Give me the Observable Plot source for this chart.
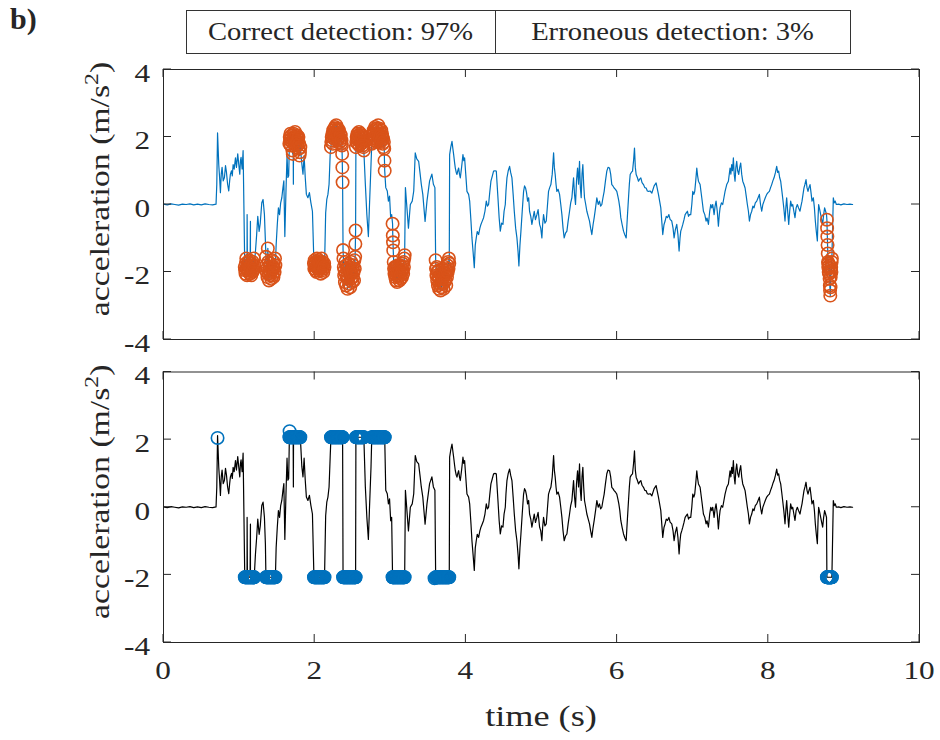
<!DOCTYPE html>
<html><head><meta charset="utf-8">
<script src="https://cdn.jsdelivr.net/npm/d3@7"></script>
<script src="https://cdn.jsdelivr.net/npm/@observablehq/plot@0.6"></script>
<style>
body{margin:0;background:#fff;}
#page{position:relative;width:940px;height:740px;font-family:"Liberation Serif","Times New Roman",serif;color:#262626;overflow:hidden;}
.abs{position:absolute;}
#tag{left:10px;top:2px;font-weight:bold;font-size:30px;}
#legendBox{left:186px;top:10px;width:665px;height:44px;border:1.5px solid #333;box-sizing:border-box;display:flex;}
#legendBox div{display:flex;align-items:center;justify-content:center;font-size:26px;white-space:nowrap;}
#legendBox span{display:inline-block;transform:scaleX(1.1);}
</style></head><body><div id="page">
<div class="abs" id="tag"></div>
<div class="abs" id="legendBox"><div id="cellA" style="width:308px;border-right:1.5px solid #333;"></div><div id="cellB" style="flex:1;"></div></div>
<div class="abs" id="topPanel" style="left:0;top:0;"></div>
<div class="abs" id="bottomPanel" style="left:0;top:360px;"></div>
</div>
<script>
// ---- labels / ticks ----
const panelTag = "b)";
const legendLabels = ["Correct detection: 97%", "Erroneous detection: 3%"];
const xTicks = [0, 2, 4, 6, 8, 10];
const yTicks = [-4, -2, 0, 2, 4];
const xLabel = "time (s)";
const yLabelMain = "acceleration (m/s";
const yLabelSup = "2";
const clampLevel = 2.07;

// ---- undetected signal samples: [time s, acceleration m/s^2] ----
const restStart = [[0,0.01],[0.05,-0.01],[0.1,0.02],[0.15,0],[0.2,-0.02],[0.25,0.01],[0.3,0],[0.35,0.02],[0.4,-0.01],[0.45,0.01],[0.5,-0.01],[0.55,0.02],[0.6,0],[0.65,-0.01],[0.695,0.01]];
const onset = [[0.705,0.6],[0.715,2.12],[0.731,1.18],[0.742,0.8],[0.753,0.35],[0.764,0.9],[0.775,1.1],[0.79,0.7],[0.806,0.8],[0.82,1.15],[0.833,0.95],[0.848,0.6],[0.863,0.4],[0.875,0.7],[0.885,0.9],[0.9,1.0],[0.91,0.85],[0.921,1.18],[0.935,1.05],[0.952,1.38],[0.965,1.1],[0.982,1.5],[0.995,1.2],[1.009,0.9],[1.018,1.3],[1.026,1.4],[1.04,1.05],[1.053,1.6]];
const gapA = [[1.106,-0.3],[1.15,-0.5],[1.216,-1.4],[1.232,-0.9],[1.247,-0.35],[1.265,-0.8],[1.28,-0.55],[1.3,0.05],[1.317,0.15],[1.335,-0.3],[1.348,-1.1],[1.49,-1.2],[1.505,-0.6],[1.52,-0.1],[1.535,-0.3],[1.55,0.05],[1.565,0.2],[1.58,0.5],[1.592,0.7],[1.605,-0.95],[1.62,0.4],[1.634,1.45],[1.645,0.8],[1.656,0.85]];
const gapB = [[1.718,0.6],[1.83,1.2],[1.845,0.9],[1.86,1.45],[1.875,0.8],[1.89,0.3],[1.91,0.2],[1.93,0.35],[1.95,0.05],[1.97,-0.2]];
const gapC = [[2.145,-0.25],[2.16,0.15],[2.175,0.3],[2.19,0.6],[2.205,1.5]];
const gapF = [[2.67,0.6],[2.69,-0.3],[2.71,-0.95],[2.725,0.0],[2.745,1.2]];
const gapG = [[2.94,0.5],[2.96,0.4],[2.975,0.1],[2.99,0.25],[3.005,-0.4],[3.018,-0.3]];
const gapH = [[3.2,0.5],[3.22,-0.1],[3.24,-0.7],[3.265,0.0],[3.29,0.1],[3.31,0.4],[3.33,1.53],[3.35,1.35],[3.375,1.28],[3.395,0.9],[3.41,0.6],[3.43,0.3],[3.46,-0.5],[3.485,0.1],[3.52,0.7],[3.55,0.9],[3.57,0.6],[3.59,0.5]];
const walkA = [[3.785,1.48],[3.8,1.7],[3.816,1.87],[3.828,1.65],[3.838,1.48],[3.85,1.25],[3.86,1.08],[3.872,0.95],[3.882,0.89],[3.893,1.0],[3.904,1.08],[3.915,0.9],[3.926,0.79],[3.943,1.1],[3.961,1.48],[3.972,1.3],[3.983,1.38],[3.998,0.9],[4.014,0.39],[4.036,0.3],[4.05,0.1],[4.067,-0.49],[4.08,-0.99],[4.095,-1.4],[4.111,-1.87],[4.124,-1.2],[4.137,-0.99],[4.15,-0.8],[4.168,-0.89],[4.185,-0.7],[4.199,-0.59],[4.215,-0.5],[4.234,-0.39],[4.252,-0.2],[4.27,0.1],[4.285,-0.05],[4.3,0.0],[4.315,0.35],[4.331,0.69],[4.35,0.85],[4.366,0.99],[4.385,1.0],[4.402,0.99],[4.424,0.2],[4.44,-0.4],[4.455,-0.79],[4.472,-0.55],[4.49,-0.59],[4.505,-0.2],[4.521,0.0],[4.53,0.4],[4.543,0.79],[4.56,1.0],[4.578,1.13],[4.592,0.95],[4.609,0.79],[4.625,0.3],[4.64,-0.2],[4.658,-0.7],[4.675,-0.99],[4.69,-1.4],[4.701,-1.82],[4.715,-1.2],[4.728,-0.79],[4.745,-0.2],[4.763,0.39],[4.776,0.55],[4.789,0.49],[4.802,0.35],[4.816,0.1],[4.83,0.2],[4.842,-0.2],[4.858,-0.35],[4.873,-0.59],[4.888,-0.4],[4.904,-0.2],[4.92,-0.45],[4.939,-0.3],[4.955,-0.15],[4.975,-0.59],[4.99,-0.7],[5.005,-0.99],[5.015,-0.6],[5.027,-0.3],[5.045,-0.55],[5.063,-0.49],[5.078,-0.05],[5.093,0.39],[5.108,0.5],[5.124,0.59],[5.142,0.9],[5.16,1.53],[5.17,1.1],[5.181,0.89],[5.192,0.6],[5.203,0.39],[5.22,0.45],[5.239,0.3],[5.255,0.0],[5.27,-0.3],[5.285,-0.7],[5.3,-0.99],[5.318,-0.85],[5.336,-0.79],[5.352,-0.5],[5.371,-0.2],[5.386,0.05],[5.402,0.2],[5.413,0.5],[5.424,0.79],[5.437,0.3],[5.45,0.0],[5.463,0.7],[5.477,1.08],[5.49,0.6],[5.503,1.28],[5.514,0.5],[5.525,0.2],[5.536,0.9],[5.547,1.18],[5.558,0.6],[5.569,0.2],[5.585,0.0],[5.6,-0.2],[5.618,-0.35],[5.635,-0.49],[5.65,-0.7],[5.666,-0.89],[5.682,-0.6],[5.697,-0.39],[5.715,-0.1],[5.732,0.2],[5.75,0.0],[5.767,0.1],[5.782,-0.05],[5.798,0.0],[5.813,0.2],[5.829,0.39],[5.846,0.7],[5.864,0.99],[5.88,1.1],[5.9,1.08],[5.915,0.9],[5.93,0.59],[5.945,0.55],[5.961,0.49],[5.978,0.45],[5.996,0.39],[6.01,0.25],[6.023,0.1],[6.036,-0.1],[6.049,-0.39],[6.067,-0.6],[6.085,-0.79],[6.102,-0.9],[6.12,-0.99],[6.135,-0.4],[6.151,0.2],[6.162,0.6],[6.173,0.89],[6.188,0.95],[6.204,0.99],[6.218,1.3],[6.23,1.67],[6.241,1.1],[6.252,0.89],[6.268,0.8],[6.283,0.69],[6.298,0.75],[6.314,0.79],[6.33,0.65],[6.349,0.59],[6.366,0.5],[6.384,0.49],[6.4,0.4],[6.415,0.39],[6.437,0.4],[6.46,0.34],[6.49,0.55],[6.516,0.64],[6.547,0.3],[6.578,-0.1]];
const walkB = [[6.604,-0.89],[6.62,-0.6],[6.635,-0.49],[6.65,-0.35],[6.666,-0.39],[6.685,-0.3],[6.701,-0.44],[6.723,-0.49],[6.74,-0.7],[6.754,-0.99],[6.77,-0.75],[6.789,-0.59],[6.805,-0.9],[6.82,-1.38],[6.832,-1.0],[6.842,-0.79],[6.855,-0.7],[6.869,-0.59],[6.885,-0.45],[6.9,-0.3],[6.915,-0.25],[6.93,-0.2],[6.945,-0.35],[6.957,-0.3],[6.974,-0.3],[6.988,0.0],[7.001,0.39],[7.015,0.3],[7.027,0.39],[7.04,0.7],[7.054,1.08],[7.065,0.85],[7.076,0.69],[7.098,0.59],[7.12,0.2],[7.142,-0.2],[7.16,-0.3],[7.177,-0.49],[7.19,-0.4],[7.208,-0.59],[7.225,-0.2],[7.239,0.0],[7.252,-0.1],[7.265,0.0],[7.283,-0.3],[7.296,-0.05],[7.309,0.1],[7.325,-0.2],[7.34,-0.64],[7.352,-0.3],[7.362,-0.1],[7.38,0.05],[7.397,0.0],[7.413,0.2],[7.428,0.39],[7.45,0.59],[7.472,0.69],[7.494,1.08],[7.505,0.9],[7.516,1.18],[7.527,1.0],[7.538,1.38],[7.549,0.9],[7.56,0.69],[7.571,1.1],[7.582,1.28],[7.595,1.0],[7.609,0.89],[7.622,1.1],[7.635,1.23],[7.648,0.9],[7.662,0.69],[7.677,0.6],[7.693,0.49],[7.708,0.25],[7.723,0.0],[7.737,-0.2],[7.75,-0.49],[7.765,-0.3],[7.781,-0.2],[7.796,-0.05],[7.811,-0.1],[7.828,0.05],[7.847,0.1],[7.865,0.2],[7.882,0.3],[7.897,0.0],[7.913,-0.2],[7.928,0.0],[7.944,0.1],[7.96,0.2],[7.979,0.3],[7.996,0.35],[8.014,0.39],[8.03,0.5],[8.045,0.59],[8.06,0.7],[8.076,0.79],[8.095,0.95],[8.111,1.13],[8.124,0.95],[8.137,0.99],[8.15,0.8],[8.164,0.69],[8.177,0.45],[8.19,0.2],[8.205,-0.1],[8.221,-0.49],[8.232,-0.1],[8.243,0.2],[8.256,-0.2],[8.27,-0.59],[8.283,-0.2],[8.296,0.1],[8.31,-0.05],[8.323,0.0],[8.338,-0.2],[8.353,-0.39],[8.368,-0.1],[8.384,0.0],[8.4,-0.1],[8.419,-0.2],[8.432,-0.05],[8.446,0.1],[8.459,0.3],[8.472,0.49],[8.485,0.6],[8.499,0.74],[8.512,0.5],[8.525,0.39],[8.538,0.5],[8.552,0.59],[8.565,0.35],[8.578,0.1],[8.596,0.2],[8.61,-0.1],[8.622,-0.49],[8.635,-0.8],[8.649,-1.08],[8.658,-0.4],[8.666,0.0],[8.68,-0.15],[8.693,-0.3],[8.706,-0.45],[8.719,-0.59],[8.732,-0.3],[8.745,-0.1],[8.758,-0.2],[8.77,-0.3]];
const restEnd = [[8.86,0.2],[8.872,0.05],[8.885,0.1],[8.9,0.0],[8.93,0.01],[8.96,-0.01],[9.0,0.02],[9.04,0.0],[9.08,0.01],[9.115,0.0]];

// ---- detected bursts: first sample time, sample interval, detected sign, measured values ----
const burstA1 = {start: 1.075, step: 0.005, sign: -1, values: [-1.85,-1.95,-2.05,-1.75,-1.6,-1.9,-2.1,-1.8,-1.95,-1.7,-2.0,-1.85,-1.65,-1.9,-2.05,-1.8,-1.95,-2.1,-1.75,-1.9,-2.0,-1.7,-1.85,-1.95,-1.6,-1.8]};
const burstA2 = {start: 1.355, step: 0.005, sign: -1, values: [-1.55,-1.8,-2.0,-1.9,-2.15,-1.3,-1.7,-2.05,-2.25,-1.95,-1.85,-2.1,-1.75,-2.0,-2.2,-1.9,-1.65,-1.95,-2.1,-1.85,-2.15,-1.7,-1.9,-2.0,-1.6,-1.8]};
const burstB = {start: 1.665, step: 0.005, sign: 1, values: [1.8,2.0,1.9,2.1,1.75,1.95,2.05,1.85,1.6,1.5,1.9,2.1,2.0,1.8,1.95,2.15,1.85,1.7,2.0,1.9,2.05,1.75,1.95,1.85,2.0,1.65,1.8,1.45,1.55,1.7]};
const burstC = {start: 1.99, step: 0.005, sign: -1, values: [-1.75,-1.9,-1.65,-1.8,-1.95,-1.7,-1.85,-2.0,-1.6,-1.75,-1.9,-1.8,-1.65,-1.95,-1.85,-1.7,-1.8,-1.9,-2.05,-1.75,-1.6,-1.85,-1.95,-1.7,-1.8,-2.0,-1.9,-1.75,-1.85]};
const burstD = {start: 2.215, step: 0.005, sign: 1, values: [1.7,1.85,2.0,1.9,2.1,1.8,2.2,2.05,1.95,2.25,2.1,2.3,2.0,2.15,2.35,2.2,1.9,2.05,2.25,2.1,1.95,2.2,2.0,1.85,2.1,1.95,2.05,1.8,1.9,1.75]};
const burstDfall = {start: 2.363, step: 0.003, sign: 1, values: [1.5,1.1,0.66]};
const burstE = {start: 2.375, step: 0.005, sign: -1, values: [-1.35,-1.6,-1.85,-2.1,-1.95,-2.3,-1.7,-2.05,-2.4,-1.8,-2.15,-1.9,-2.5,-2.2,-1.75,-2.0,-2.35,-1.85,-2.1,-2.45,-1.95,-2.2,-1.7,-2.05,-2.3,-1.9,-2.15,-1.8,-2.0,-2.25,-1.65,-1.9,-1.55]};
const burstErise = {start: 2.538, step: 0.003, sign: -1, values: [-1.17,-0.77]};
const burstF1 = {start: 2.545, step: 0.005, sign: 1, values: [1.7,1.85,2.0,1.95,2.1,1.8,2.05,1.9,2.15,1.75,2.0,1.85,2.1,1.95,1.8,2.05,1.9,2.0,1.75,1.85,1.7,1.6]};
const burstF2 = {start: 2.755, step: 0.005, sign: 1, values: [1.8,1.95,2.1,1.85,2.05,2.2,1.9,2.15,2.0,2.3,1.95,2.1,2.25,1.85,2.05,2.2,1.9,2.35,2.1,2.0,2.25,1.95,2.15,1.85,2.05,2.2,1.9,2.1,2.0,1.8,1.95,1.7,1.85,1.65]};
const burstFfall = {start: 2.923, step: 0.003, sign: 1, values: [1.3,1.0]};
const burstGfall = {start: 3.03, step: 0.003, sign: -1, values: [-0.57,-0.92,-1.12,-1.36]};
const burstG = {start: 3.045, step: 0.005, sign: -1, values: [-1.7,-1.9,-2.05,-1.85,-2.15,-1.95,-2.25,-1.85,-2.1,-2.3,-2.0,-1.8,-2.15,-1.9,-2.05,-2.25,-1.95,-1.8,-2.1,-2.2,-1.85,-2.0,-2.15,-1.75,-1.95,-2.05,-1.7,-1.85,-1.6,-1.5]};
const burstH = {start: 3.6, step: 0.005, sign: -1, values: [-1.65,-1.9,-2.1,-1.85,-2.25,-2.0,-2.4,-2.15,-1.95,-2.5,-2.2,-2.35,-2.05,-2.55,-2.3,-2.1,-2.45,-2.2,-1.9,-2.35,-2.15,-2.5,-2.0,-2.3,-2.1,-1.85,-2.25,-2.05,-2.4,-1.95,-2.15,-1.8,-2.0,-1.7,-1.9,-1.6,-1.75]};
const burstI = {start: 8.775, step: 0.003, sign: -1, values: [-0.45,-0.7,-0.95,-1.2,-1.45,-1.7,-1.85,-1.75,-2.0,-1.9,-2.05,-1.8,-2.2,-2.4,-2.55,-2.7,-2.45,-2.15,-1.95,-1.85,-2.0,-1.7,-1.6]};
// isolated hollow markers of the lower panel: [time, acceleration]
const extraBottomMarkers = [[0.715,2.05],[1.668,2.25],[3.585,-2.1]];

// ---- styles ----
const axisColor = "#262626";
const topLineColor = "#0072BD";
const topDotColor = "#D95319";
const bottomLineColor = "#000000";
const bottomDotColor = "#0072BD";
const textStretch = 1.25;

const plainSamples = [...restStart, ...onset, ...gapA, ...gapB, ...gapC, ...gapF, ...gapG, ...gapH, ...walkA, ...walkB, ...restEnd]
  .map(([t, a]) => ({t, a, d: 0}));
const bursts = [burstA1, burstA2, burstB, burstC, burstD, burstDfall, burstE, burstErise, burstF1, burstF2, burstFfall, burstGfall, burstG, burstH, burstI];
const burstSamples = bursts.flatMap(b => b.values.map((a, i) => ({t: b.start + i * b.step, a, d: b.sign})));
const samples = plainSamples.concat(burstSamples).sort((p, q) => p.t - q.t);
const topLine = samples;
const topDots = samples.filter(s => s.d !== 0);
const bottomLine = samples.map(s => ({t: s.t, a: s.d !== 0 ? s.d * clampLevel : s.a}));
const bottomDots = samples.filter(s => s.d !== 0).map(s => ({t: s.t, a: s.d * clampLevel}))
  .concat(extraBottomMarkers.map(([t, a]) => ({t, a})));

document.getElementById("tag").textContent = panelTag;
document.getElementById("cellA").innerHTML = `<span>${legendLabels[0]}</span>`;
document.getElementById("cellB").innerHTML = `<span>${legendLabels[1]}</span>`;

const serif = "'Liberation Serif', 'Times New Roman', serif";

function buildPanel({lineData, dotData, lineColor, dotColor, height, marginTop, marginBottom, showX}) {
  const svg = Plot.plot({
    width: 940, height, marginLeft: 163, marginRight: 21, marginTop, marginBottom,
    x: {domain: [0, 10], axis: null},
    y: {domain: [-4, 4], axis: null},
    style: {fontFamily: serif, fontSize: "25px", color: axisColor, background: "transparent", overflow: "visible"},
    marks: [
      Plot.line(lineData, {x: "t", y: "a", stroke: lineColor, strokeWidth: 1.2}),
      Plot.dot(dotData, {x: "t", y: "a", r: 6.2, stroke: dotColor, strokeWidth: 1.6, fill: "none"}),
      Plot.frame({stroke: axisColor, strokeWidth: 1})
    ]
  });
  const sx = svg.scale("x"), sy = svg.scale("y");
  const L = sx.apply(0), R = sx.apply(10), B = sy.apply(-4), T = sy.apply(4);
  const root = d3.select(svg);
  const g = root.append("g").attr("stroke", axisColor).attr("stroke-width", 1);
  const tl = 8;
  xTicks.forEach(v => {
    const x = sx.apply(v);
    g.append("line").attr("x1", x).attr("x2", x).attr("y1", B).attr("y2", B - tl);
    g.append("line").attr("x1", x).attr("x2", x).attr("y1", T).attr("y2", T + tl);
  });
  yTicks.forEach(v => {
    const y = sy.apply(v);
    g.append("line").attr("x1", L).attr("x2", L + tl).attr("y1", y).attr("y2", y);
    g.append("line").attr("x1", R).attr("x2", R - tl).attr("y1", y).attr("y2", y);
  });
  const labels = root.append("g").attr("fill", axisColor)
    .style("font-family", serif).style("font-size", "25px");
  yTicks.forEach(v => {
    labels.append("text")
      .attr("transform", `translate(${L - 13},${sy.apply(v) + 4}) scale(${textStretch},1)`)
      .attr("text-anchor", "end").attr("dy", "0.35em").text(String(v));
  });
  if (showX) {
    xTicks.forEach(v => {
      labels.append("text")
        .attr("transform", `translate(${sx.apply(v)},${B + 37}) scale(${textStretch},1)`)
        .attr("text-anchor", "middle").text(String(v));
    });
    root.append("text")
      .attr("transform", `translate(${(L + R) / 2},${B + 84}) scale(${textStretch},1)`)
      .attr("text-anchor", "middle").attr("fill", axisColor)
      .style("font-family", serif).style("font-size", "29px")
      .text(xLabel);
  }
  const cy = (T + B) / 2 - 15;
  const yl = root.append("text")
    .attr("transform", `translate(109,${cy}) rotate(-90) scale(${textStretch},1)`)
    .attr("text-anchor", "middle").attr("fill", axisColor)
    .style("font-family", serif).style("font-size", "27px");
  yl.append("tspan").text(yLabelMain);
  yl.append("tspan").attr("dy", -11).style("font-size", "19px").text(yLabelSup);
  yl.append("tspan").attr("dy", 11).text(")");
  return svg;
}

document.getElementById("topPanel").appendChild(buildPanel({
  lineData: topLine, dotData: topDots, lineColor: topLineColor, dotColor: topDotColor,
  height: 360, marginTop: 69, marginBottom: 21, showX: false
}));
document.getElementById("bottomPanel").appendChild(buildPanel({
  lineData: bottomLine, dotData: bottomDots, lineColor: bottomLineColor, dotColor: bottomDotColor,
  height: 380, marginTop: 11.5, marginBottom: 98, showX: true
}));
</script>
</body></html>
